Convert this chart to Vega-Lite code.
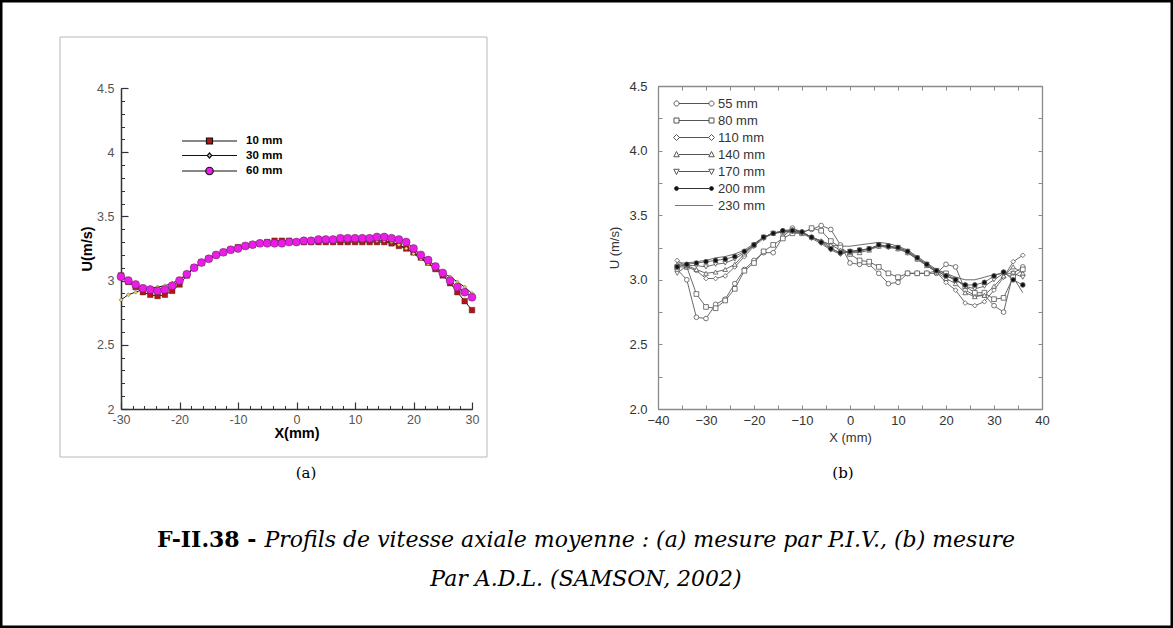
{
"width": 1173, "height": 628, "autosize": {"type": "none"}, "padding": 0, "background": "white",
"config": {"view": {"stroke": "black", "strokeWidth": 5}, "font": "Liberation Sans", "axis": {"grid": false, "labelFlush": false, "labelOverlap": false}},
"datasets": {
"a": [
{"x":-30,"u":3.04,"s":"10 mm"},{"x":-28.75,"u":2.99,"s":"10 mm"},{"x":-27.5,"u":2.95,"s":"10 mm"},{"x":-26.25,"u":2.91,"s":"10 mm"},{"x":-25,"u":2.89,"s":"10 mm"},{"x":-23.75,"u":2.88,"s":"10 mm"},{"x":-22.5,"u":2.89,"s":"10 mm"},{"x":-21.25,"u":2.92,"s":"10 mm"},{"x":-20,"u":2.97,"s":"10 mm"},{"x":-18.75,"u":3.04,"s":"10 mm"},
{"x":-17.5,"u":3.10,"s":"10 mm"},{"x":-16.25,"u":3.14,"s":"10 mm"},{"x":-15,"u":3.17,"s":"10 mm"},{"x":-13.75,"u":3.20,"s":"10 mm"},{"x":-12.5,"u":3.22,"s":"10 mm"},{"x":-11.25,"u":3.24,"s":"10 mm"},{"x":-10,"u":3.26,"s":"10 mm"},{"x":-8.75,"u":3.27,"s":"10 mm"},{"x":-7.5,"u":3.28,"s":"10 mm"},{"x":-6.25,"u":3.29,"s":"10 mm"},
{"x":-5,"u":3.30,"s":"10 mm"},{"x":-3.75,"u":3.31,"s":"10 mm"},{"x":-2.5,"u":3.31,"s":"10 mm"},{"x":-1.25,"u":3.31,"s":"10 mm"},{"x":0,"u":3.30,"s":"10 mm"},{"x":1.25,"u":3.30,"s":"10 mm"},{"x":2.5,"u":3.30,"s":"10 mm"},{"x":3.75,"u":3.30,"s":"10 mm"},{"x":5,"u":3.30,"s":"10 mm"},{"x":6.25,"u":3.30,"s":"10 mm"},
{"x":7.5,"u":3.30,"s":"10 mm"},{"x":8.75,"u":3.30,"s":"10 mm"},{"x":10,"u":3.30,"s":"10 mm"},{"x":11.25,"u":3.30,"s":"10 mm"},{"x":12.5,"u":3.30,"s":"10 mm"},{"x":13.75,"u":3.30,"s":"10 mm"},{"x":15,"u":3.30,"s":"10 mm"},{"x":16.25,"u":3.29,"s":"10 mm"},{"x":17.5,"u":3.27,"s":"10 mm"},{"x":18.75,"u":3.25,"s":"10 mm"},
{"x":20,"u":3.22,"s":"10 mm"},{"x":21.25,"u":3.18,"s":"10 mm"},{"x":22.5,"u":3.14,"s":"10 mm"},{"x":23.75,"u":3.09,"s":"10 mm"},{"x":25,"u":3.04,"s":"10 mm"},{"x":26.25,"u":2.98,"s":"10 mm"},{"x":27.5,"u":2.91,"s":"10 mm"},{"x":28.75,"u":2.84,"s":"10 mm"},{"x":30,"u":2.77,"s":"10 mm"},
{"x":-30,"u":2.85,"s":"30 mm"},{"x":-28.75,"u":2.89,"s":"30 mm"},{"x":-27.5,"u":2.91,"s":"30 mm"},{"x":-26.25,"u":2.93,"s":"30 mm"},{"x":-25,"u":2.94,"s":"30 mm"},{"x":-23.75,"u":2.95,"s":"30 mm"},{"x":-22.5,"u":2.96,"s":"30 mm"},{"x":-21.25,"u":2.98,"s":"30 mm"},{"x":-20,"u":3.01,"s":"30 mm"},{"x":-18.75,"u":3.05,"s":"30 mm"},
{"x":-17.5,"u":3.10,"s":"30 mm"},{"x":-16.25,"u":3.14,"s":"30 mm"},{"x":-15,"u":3.17,"s":"30 mm"},{"x":-13.75,"u":3.20,"s":"30 mm"},{"x":-12.5,"u":3.22,"s":"30 mm"},{"x":-11.25,"u":3.24,"s":"30 mm"},{"x":-10,"u":3.25,"s":"30 mm"},{"x":-8.75,"u":3.27,"s":"30 mm"},{"x":-7.5,"u":3.28,"s":"30 mm"},{"x":-6.25,"u":3.29,"s":"30 mm"},
{"x":-5,"u":3.30,"s":"30 mm"},{"x":-3.75,"u":3.30,"s":"30 mm"},{"x":-2.5,"u":3.30,"s":"30 mm"},{"x":-1.25,"u":3.30,"s":"30 mm"},{"x":0,"u":3.31,"s":"30 mm"},{"x":1.25,"u":3.31,"s":"30 mm"},{"x":2.5,"u":3.31,"s":"30 mm"},{"x":3.75,"u":3.32,"s":"30 mm"},{"x":5,"u":3.32,"s":"30 mm"},{"x":6.25,"u":3.32,"s":"30 mm"},
{"x":7.5,"u":3.32,"s":"30 mm"},{"x":8.75,"u":3.31,"s":"30 mm"},{"x":10,"u":3.31,"s":"30 mm"},{"x":11.25,"u":3.31,"s":"30 mm"},{"x":12.5,"u":3.31,"s":"30 mm"},{"x":13.75,"u":3.31,"s":"30 mm"},{"x":15,"u":3.31,"s":"30 mm"},{"x":16.25,"u":3.30,"s":"30 mm"},{"x":17.5,"u":3.28,"s":"30 mm"},{"x":18.75,"u":3.25,"s":"30 mm"},
{"x":20,"u":3.21,"s":"30 mm"},{"x":21.25,"u":3.17,"s":"30 mm"},{"x":22.5,"u":3.13,"s":"30 mm"},{"x":23.75,"u":3.10,"s":"30 mm"},{"x":25,"u":3.06,"s":"30 mm"},{"x":26.25,"u":3.03,"s":"30 mm"},{"x":27.5,"u":2.99,"s":"30 mm"},{"x":28.75,"u":2.95,"s":"30 mm"},{"x":30,"u":2.90,"s":"30 mm"},
{"x":-30,"u":3.03,"s":"60 mm"},{"x":-28.75,"u":3.00,"s":"60 mm"},{"x":-27.5,"u":2.97,"s":"60 mm"},{"x":-26.25,"u":2.94,"s":"60 mm"},{"x":-25,"u":2.93,"s":"60 mm"},{"x":-23.75,"u":2.92,"s":"60 mm"},{"x":-22.5,"u":2.93,"s":"60 mm"},{"x":-21.25,"u":2.96,"s":"60 mm"},{"x":-20,"u":3.00,"s":"60 mm"},{"x":-18.75,"u":3.05,"s":"60 mm"},
{"x":-17.5,"u":3.10,"s":"60 mm"},{"x":-16.25,"u":3.14,"s":"60 mm"},{"x":-15,"u":3.17,"s":"60 mm"},{"x":-13.75,"u":3.20,"s":"60 mm"},{"x":-12.5,"u":3.22,"s":"60 mm"},{"x":-11.25,"u":3.24,"s":"60 mm"},{"x":-10,"u":3.25,"s":"60 mm"},{"x":-8.75,"u":3.27,"s":"60 mm"},{"x":-7.5,"u":3.28,"s":"60 mm"},{"x":-6.25,"u":3.29,"s":"60 mm"},
{"x":-5,"u":3.29,"s":"60 mm"},{"x":-3.75,"u":3.29,"s":"60 mm"},{"x":-2.5,"u":3.29,"s":"60 mm"},{"x":-1.25,"u":3.30,"s":"60 mm"},{"x":0,"u":3.30,"s":"60 mm"},{"x":1.25,"u":3.31,"s":"60 mm"},{"x":2.5,"u":3.31,"s":"60 mm"},{"x":3.75,"u":3.32,"s":"60 mm"},{"x":5,"u":3.32,"s":"60 mm"},{"x":6.25,"u":3.32,"s":"60 mm"},
{"x":7.5,"u":3.33,"s":"60 mm"},{"x":8.75,"u":3.33,"s":"60 mm"},{"x":10,"u":3.33,"s":"60 mm"},{"x":11.25,"u":3.33,"s":"60 mm"},{"x":12.5,"u":3.33,"s":"60 mm"},{"x":13.75,"u":3.34,"s":"60 mm"},{"x":15,"u":3.34,"s":"60 mm"},{"x":16.25,"u":3.33,"s":"60 mm"},{"x":17.5,"u":3.32,"s":"60 mm"},{"x":18.75,"u":3.30,"s":"60 mm"},
{"x":20,"u":3.25,"s":"60 mm"},{"x":21.25,"u":3.20,"s":"60 mm"},{"x":22.5,"u":3.16,"s":"60 mm"},{"x":23.75,"u":3.11,"s":"60 mm"},{"x":25,"u":3.06,"s":"60 mm"},{"x":26.25,"u":3.00,"s":"60 mm"},{"x":27.5,"u":2.95,"s":"60 mm"},{"x":28.75,"u":2.91,"s":"60 mm"},{"x":30,"u":2.87,"s":"60 mm"}
],
"b": [
{"x":-36,"u":3.08,"s":"55 mm"},{"x":-34,"u":3.00,"s":"55 mm"},{"x":-32,"u":2.71,"s":"55 mm"},{"x":-30,"u":2.70,"s":"55 mm"},{"x":-28,"u":2.81,"s":"55 mm"},{"x":-26,"u":2.85,"s":"55 mm"},{"x":-24,"u":2.97,"s":"55 mm"},{"x":-22,"u":3.08,"s":"55 mm"},{"x":-20,"u":3.15,"s":"55 mm"},{"x":-18,"u":3.21,"s":"55 mm"},{"x":-16,"u":3.21,"s":"55 mm"},{"x":-14,"u":3.33,"s":"55 mm"},{"x":-12,"u":3.40,"s":"55 mm"},{"x":-10,"u":3.37,"s":"55 mm"},{"x":-8,"u":3.39,"s":"55 mm"},{"x":-6,"u":3.42,"s":"55 mm"},{"x":-4,"u":3.39,"s":"55 mm"},{"x":-2,"u":3.27,"s":"55 mm"},{"x":0,"u":3.13,"s":"55 mm"},{"x":2,"u":3.12,"s":"55 mm"},{"x":4,"u":3.12,"s":"55 mm"},{"x":6,"u":3.05,"s":"55 mm"},{"x":8,"u":2.97,"s":"55 mm"},{"x":10,"u":2.98,"s":"55 mm"},{"x":12,"u":3.05,"s":"55 mm"},{"x":14,"u":3.05,"s":"55 mm"},{"x":16,"u":3.05,"s":"55 mm"},{"x":18,"u":3.05,"s":"55 mm"},{"x":20,"u":3.12,"s":"55 mm"},{"x":22,"u":3.10,"s":"55 mm"},{"x":24,"u":2.92,"s":"55 mm"},{"x":26,"u":2.88,"s":"55 mm"},{"x":28,"u":2.88,"s":"55 mm"},{"x":30,"u":2.80,"s":"55 mm"},{"x":32,"u":2.75,"s":"55 mm"},{"x":34,"u":3.05,"s":"55 mm"},{"x":36,"u":3.10,"s":"55 mm"},
{"x":-36,"u":3.10,"s":"80 mm"},{"x":-34,"u":3.10,"s":"80 mm"},{"x":-32,"u":2.89,"s":"80 mm"},{"x":-30,"u":2.79,"s":"80 mm"},{"x":-28,"u":2.78,"s":"80 mm"},{"x":-26,"u":2.84,"s":"80 mm"},{"x":-24,"u":2.93,"s":"80 mm"},{"x":-22,"u":3.07,"s":"80 mm"},{"x":-20,"u":3.13,"s":"80 mm"},{"x":-18,"u":3.22,"s":"80 mm"},{"x":-16,"u":3.27,"s":"80 mm"},{"x":-14,"u":3.32,"s":"80 mm"},{"x":-12,"u":3.36,"s":"80 mm"},{"x":-10,"u":3.36,"s":"80 mm"},{"x":-8,"u":3.40,"s":"80 mm"},{"x":-6,"u":3.38,"s":"80 mm"},{"x":-4,"u":3.30,"s":"80 mm"},{"x":-2,"u":3.25,"s":"80 mm"},{"x":0,"u":3.20,"s":"80 mm"},{"x":2,"u":3.15,"s":"80 mm"},{"x":4,"u":3.14,"s":"80 mm"},{"x":6,"u":3.10,"s":"80 mm"},{"x":8,"u":3.05,"s":"80 mm"},{"x":10,"u":3.02,"s":"80 mm"},{"x":12,"u":3.05,"s":"80 mm"},{"x":14,"u":3.05,"s":"80 mm"},{"x":16,"u":3.05,"s":"80 mm"},{"x":18,"u":3.07,"s":"80 mm"},{"x":20,"u":3.05,"s":"80 mm"},{"x":22,"u":3.00,"s":"80 mm"},{"x":24,"u":2.95,"s":"80 mm"},{"x":26,"u":2.90,"s":"80 mm"},{"x":28,"u":2.90,"s":"80 mm"},{"x":30,"u":2.85,"s":"80 mm"},{"x":32,"u":2.86,"s":"80 mm"},{"x":34,"u":3.02,"s":"80 mm"},{"x":36,"u":3.08,"s":"80 mm"},
{"x":-36,"u":3.15,"s":"110 mm"},{"x":-34,"u":3.10,"s":"110 mm"},{"x":-32,"u":3.07,"s":"110 mm"},{"x":-30,"u":3.01,"s":"110 mm"},{"x":-28,"u":3.01,"s":"110 mm"},{"x":-26,"u":3.03,"s":"110 mm"},{"x":-24,"u":3.10,"s":"110 mm"},{"x":-22,"u":3.18,"s":"110 mm"},{"x":-20,"u":3.26,"s":"110 mm"},{"x":-18,"u":3.32,"s":"110 mm"},{"x":-16,"u":3.36,"s":"110 mm"},{"x":-14,"u":3.38,"s":"110 mm"},{"x":-12,"u":3.39,"s":"110 mm"},{"x":-10,"u":3.37,"s":"110 mm"},{"x":-8,"u":3.33,"s":"110 mm"},{"x":-6,"u":3.30,"s":"110 mm"},{"x":-4,"u":3.25,"s":"110 mm"},{"x":-2,"u":3.20,"s":"110 mm"},{"x":0,"u":3.22,"s":"110 mm"},{"x":2,"u":3.22,"s":"110 mm"},{"x":4,"u":3.24,"s":"110 mm"},{"x":6,"u":3.26,"s":"110 mm"},{"x":8,"u":3.25,"s":"110 mm"},{"x":10,"u":3.24,"s":"110 mm"},{"x":12,"u":3.21,"s":"110 mm"},{"x":14,"u":3.16,"s":"110 mm"},{"x":16,"u":3.11,"s":"110 mm"},{"x":18,"u":3.06,"s":"110 mm"},{"x":20,"u":2.98,"s":"110 mm"},{"x":22,"u":2.92,"s":"110 mm"},{"x":24,"u":2.82,"s":"110 mm"},{"x":26,"u":2.80,"s":"110 mm"},{"x":28,"u":2.83,"s":"110 mm"},{"x":30,"u":2.92,"s":"110 mm"},{"x":32,"u":3.02,"s":"110 mm"},{"x":34,"u":3.14,"s":"110 mm"},{"x":36,"u":3.19,"s":"110 mm"},
{"x":-36,"u":3.12,"s":"140 mm"},{"x":-34,"u":3.11,"s":"140 mm"},{"x":-32,"u":3.08,"s":"140 mm"},{"x":-30,"u":3.05,"s":"140 mm"},{"x":-28,"u":3.06,"s":"140 mm"},{"x":-26,"u":3.08,"s":"140 mm"},{"x":-24,"u":3.12,"s":"140 mm"},{"x":-22,"u":3.20,"s":"140 mm"},{"x":-20,"u":3.27,"s":"140 mm"},{"x":-18,"u":3.33,"s":"140 mm"},{"x":-16,"u":3.36,"s":"140 mm"},{"x":-14,"u":3.37,"s":"140 mm"},{"x":-12,"u":3.38,"s":"140 mm"},{"x":-10,"u":3.37,"s":"140 mm"},{"x":-8,"u":3.33,"s":"140 mm"},{"x":-6,"u":3.30,"s":"140 mm"},{"x":-4,"u":3.27,"s":"140 mm"},{"x":-2,"u":3.23,"s":"140 mm"},{"x":0,"u":3.21,"s":"140 mm"},{"x":2,"u":3.21,"s":"140 mm"},{"x":4,"u":3.23,"s":"140 mm"},{"x":6,"u":3.26,"s":"140 mm"},{"x":8,"u":3.26,"s":"140 mm"},{"x":10,"u":3.24,"s":"140 mm"},{"x":12,"u":3.21,"s":"140 mm"},{"x":14,"u":3.16,"s":"140 mm"},{"x":16,"u":3.11,"s":"140 mm"},{"x":18,"u":3.06,"s":"140 mm"},{"x":20,"u":3.01,"s":"140 mm"},{"x":22,"u":2.97,"s":"140 mm"},{"x":24,"u":2.90,"s":"140 mm"},{"x":26,"u":2.87,"s":"140 mm"},{"x":28,"u":2.88,"s":"140 mm"},{"x":30,"u":2.95,"s":"140 mm"},{"x":32,"u":3.03,"s":"140 mm"},{"x":34,"u":3.10,"s":"140 mm"},{"x":36,"u":3.05,"s":"140 mm"},
{"x":-36,"u":3.05,"s":"170 mm"},{"x":-34,"u":3.11,"s":"170 mm"},{"x":-32,"u":3.11,"s":"170 mm"},{"x":-30,"u":3.10,"s":"170 mm"},{"x":-28,"u":3.12,"s":"170 mm"},{"x":-26,"u":3.13,"s":"170 mm"},{"x":-24,"u":3.16,"s":"170 mm"},{"x":-22,"u":3.21,"s":"170 mm"},{"x":-20,"u":3.27,"s":"170 mm"},{"x":-18,"u":3.33,"s":"170 mm"},{"x":-16,"u":3.36,"s":"170 mm"},{"x":-14,"u":3.37,"s":"170 mm"},{"x":-12,"u":3.37,"s":"170 mm"},{"x":-10,"u":3.36,"s":"170 mm"},{"x":-8,"u":3.32,"s":"170 mm"},{"x":-6,"u":3.28,"s":"170 mm"},{"x":-4,"u":3.23,"s":"170 mm"},{"x":-2,"u":3.20,"s":"170 mm"},{"x":0,"u":3.22,"s":"170 mm"},{"x":2,"u":3.23,"s":"170 mm"},{"x":4,"u":3.24,"s":"170 mm"},{"x":6,"u":3.27,"s":"170 mm"},{"x":8,"u":3.26,"s":"170 mm"},{"x":10,"u":3.25,"s":"170 mm"},{"x":12,"u":3.22,"s":"170 mm"},{"x":14,"u":3.17,"s":"170 mm"},{"x":16,"u":3.12,"s":"170 mm"},{"x":18,"u":3.07,"s":"170 mm"},{"x":20,"u":3.03,"s":"170 mm"},{"x":22,"u":3.00,"s":"170 mm"},{"x":24,"u":2.95,"s":"170 mm"},{"x":26,"u":2.93,"s":"170 mm"},{"x":28,"u":2.95,"s":"170 mm"},{"x":30,"u":3.00,"s":"170 mm"},{"x":32,"u":3.05,"s":"170 mm"},{"x":34,"u":3.05,"s":"170 mm"},{"x":36,"u":3.02,"s":"170 mm"},
{"x":-36,"u":3.10,"s":"200 mm"},{"x":-34,"u":3.12,"s":"200 mm"},{"x":-32,"u":3.13,"s":"200 mm"},{"x":-30,"u":3.14,"s":"200 mm"},{"x":-28,"u":3.15,"s":"200 mm"},{"x":-26,"u":3.16,"s":"200 mm"},{"x":-24,"u":3.18,"s":"200 mm"},{"x":-22,"u":3.22,"s":"200 mm"},{"x":-20,"u":3.27,"s":"200 mm"},{"x":-18,"u":3.33,"s":"200 mm"},{"x":-16,"u":3.36,"s":"200 mm"},{"x":-14,"u":3.38,"s":"200 mm"},{"x":-12,"u":3.38,"s":"200 mm"},{"x":-10,"u":3.37,"s":"200 mm"},{"x":-8,"u":3.33,"s":"200 mm"},{"x":-6,"u":3.29,"s":"200 mm"},{"x":-4,"u":3.24,"s":"200 mm"},{"x":-2,"u":3.21,"s":"200 mm"},{"x":0,"u":3.22,"s":"200 mm"},{"x":2,"u":3.23,"s":"200 mm"},{"x":4,"u":3.24,"s":"200 mm"},{"x":6,"u":3.27,"s":"200 mm"},{"x":8,"u":3.26,"s":"200 mm"},{"x":10,"u":3.25,"s":"200 mm"},{"x":12,"u":3.22,"s":"200 mm"},{"x":14,"u":3.17,"s":"200 mm"},{"x":16,"u":3.12,"s":"200 mm"},{"x":18,"u":3.07,"s":"200 mm"},{"x":20,"u":3.03,"s":"200 mm"},{"x":22,"u":3.00,"s":"200 mm"},{"x":24,"u":2.96,"s":"200 mm"},{"x":26,"u":2.96,"s":"200 mm"},{"x":28,"u":2.98,"s":"200 mm"},{"x":30,"u":3.03,"s":"200 mm"},{"x":32,"u":3.06,"s":"200 mm"},{"x":34,"u":3.00,"s":"200 mm"},{"x":36,"u":2.96,"s":"200 mm"},
{"x":-36,"u":3.13,"s":"230 mm"},{"x":-34,"u":3.13,"s":"230 mm"},{"x":-32,"u":3.14,"s":"230 mm"},{"x":-30,"u":3.15,"s":"230 mm"},{"x":-28,"u":3.17,"s":"230 mm"},{"x":-26,"u":3.18,"s":"230 mm"},{"x":-24,"u":3.20,"s":"230 mm"},{"x":-22,"u":3.23,"s":"230 mm"},{"x":-20,"u":3.28,"s":"230 mm"},{"x":-18,"u":3.33,"s":"230 mm"},{"x":-16,"u":3.36,"s":"230 mm"},{"x":-14,"u":3.37,"s":"230 mm"},{"x":-12,"u":3.38,"s":"230 mm"},{"x":-10,"u":3.36,"s":"230 mm"},{"x":-8,"u":3.33,"s":"230 mm"},{"x":-6,"u":3.30,"s":"230 mm"},{"x":-4,"u":3.27,"s":"230 mm"},{"x":-2,"u":3.26,"s":"230 mm"},{"x":0,"u":3.26,"s":"230 mm"},{"x":2,"u":3.27,"s":"230 mm"},{"x":4,"u":3.28,"s":"230 mm"},{"x":6,"u":3.29,"s":"230 mm"},{"x":8,"u":3.28,"s":"230 mm"},{"x":10,"u":3.26,"s":"230 mm"},{"x":12,"u":3.23,"s":"230 mm"},{"x":14,"u":3.18,"s":"230 mm"},{"x":16,"u":3.13,"s":"230 mm"},{"x":18,"u":3.08,"s":"230 mm"},{"x":20,"u":3.05,"s":"230 mm"},{"x":22,"u":3.02,"s":"230 mm"},{"x":24,"u":3.00,"s":"230 mm"},{"x":26,"u":3.00,"s":"230 mm"},{"x":28,"u":3.02,"s":"230 mm"},{"x":30,"u":3.04,"s":"230 mm"},{"x":32,"u":3.05,"s":"230 mm"},{"x":34,"u":3.02,"s":"230 mm"},{"x":36,"u":2.90,"s":"230 mm"}
]
},
"layer": [
{
"layer": [
{
"data": {"values": [{}]},
"mark": {"type": "rect", "filled": false, "color": "#b8b8b8", "strokeWidth": 1},
"encoding": {
"x": {"datum": -40.43, "type": "quantitative", "scale": {"domain": [-30, 30], "range": [121, 472], "nice": false, "zero": false}, "axis": null},
"x2": {"datum": 32.56},
"y": {"datum": 4.897, "type": "quantitative", "scale": {"domain": [2, 4.5], "range": [409, 88], "nice": false, "zero": false}, "axis": null},
"y2": {"datum": 1.626}
}
},
{
"data": {"name": "a"},
"mark": {"type": "line", "color": "#1a1a1a", "strokeWidth": 1},
"encoding": {
"x": {"field": "x", "type": "quantitative", "scale": {"domain": [-30, 30], "range": [121, 472], "nice": false, "zero": false},
"axis": {"orient": "bottom", "offset": -219, "values": [-30, -20, -10, 0, 10, 20, 30], "tickSize": -7, "tickColor": "#333", "tickWidth": 1.2, "domainColor": "#333", "domainWidth": 1.5, "labelExpr": "'' + datum.value", "labelFont": "Liberation Sans", "labelFontSize": 12.5, "labelColor": "#555", "labelPadding": 11, "title": "X(mm)", "titleFont": "Liberation Sans", "titleFontSize": 14.5, "titleFontWeight": "bold", "titleColor": "black", "titlePadding": 1}},
"y": {"field": "u", "type": "quantitative", "scale": {"domain": [2, 4.5], "range": [409, 88], "nice": false, "zero": false},
"axis": {"orient": "left", "offset": -121, "values": [2, 2.5, 3, 3.5, 4, 4.5], "tickSize": -7, "tickColor": "#333", "tickWidth": 1.2, "domainColor": "#333", "domainWidth": 1.5, "labelExpr": "'' + datum.value", "labelFont": "Liberation Sans", "labelFontSize": 12.5, "labelColor": "#555", "labelPadding": 14, "title": "U(m/s)", "titleFont": "Liberation Sans", "titleFontSize": 14.5, "titleFontWeight": "bold", "titleColor": "black", "titlePadding": 2}},
"detail": {"field": "s", "type": "nominal"}
}
},
{
"data": {"name": "a"},
"mark": {"type": "point", "filled": true, "opacity": 1, "stroke": "#402020", "strokeWidth": 0.4},
"encoding": {
"x": {"field": "x", "type": "quantitative", "scale": {"domain": [-30, 30], "range": [121, 472], "nice": false, "zero": false},
"axis": {"orient": "bottom", "offset": -219, "values": [-30,-28,-26,-24,-22,-20,-18,-16,-14,-12,-10,-8,-6,-4,-2,0,2,4,6,8,10,12,14,16,18,20,22,24,26,28,30], "tickSize": -3.5, "tickColor": "#333", "labels": false, "domain": false, "title": null}},
"y": {"field": "u", "type": "quantitative", "scale": {"domain": [2, 4.5], "range": [409, 88], "nice": false, "zero": false},
"axis": {"orient": "left", "offset": -121, "values": [2,2.1,2.2,2.3,2.4,2.5,2.6,2.7,2.8,2.9,3,3.1,3.2,3.3,3.4,3.5,3.6,3.7,3.8,3.9,4,4.1,4.2,4.3,4.4,4.5], "tickSize": -3.5, "tickColor": "#333", "labels": false, "domain": false, "title": null}},
"color": {"field": "s", "type": "nominal", "scale": {"domain": ["10 mm", "30 mm", "60 mm"], "range": ["#b31515", "#e3d75a", "#e81ee8"]}, "legend": null},
"shape": {"field": "s", "type": "nominal", "scale": {"domain": ["10 mm", "30 mm", "60 mm"], "range": ["square", "diamond", "circle"]}, "legend": null},
"size": {"field": "s", "type": "nominal", "scale": {"type": "ordinal", "domain": ["10 mm", "30 mm", "60 mm"], "range": [32, 16, 64]}, "legend": null}
}
},
{
"data": {"name": "a"},
"mark": {"type": "point", "filled": true, "opacity": 0, "size": 100, "strokeWidth": 1.2},
"encoding": {
"color": {"field": "s", "type": "nominal", "scale": {"domain": ["10 mm", "30 mm", "60 mm"], "range": ["#b31515", "#e3d75a", "#e81ee8"]},
"legend": {"title": null, "orient": "none", "legendX": 203.5, "legendY": 135, "padding": 0, "labelFont": "Liberation Sans", "labelFontWeight": "bold", "labelFontSize": 11.5, "labelColor": "black", "labelOffset": 30.5, "rowPadding": 2.5, "symbolSize": 100, "symbolStrokeWidth": 1.2, "symbolOpacity": 1}},
"stroke": {"field": "s", "type": "nominal", "scale": {"domain": ["10 mm", "30 mm", "60 mm"], "range": ["#111", "#111", "#111"]},
"legend": {"title": null, "orient": "none", "legendX": 203.5, "legendY": 135, "padding": 0, "labelFont": "Liberation Sans", "labelFontWeight": "bold", "labelFontSize": 11.5, "labelColor": "black", "labelOffset": 30.5, "rowPadding": 2.5, "symbolSize": 100, "symbolStrokeWidth": 1.2, "symbolOpacity": 1}},
"shape": {"field": "s", "type": "nominal", "scale": {"domain": ["10 mm", "30 mm", "60 mm"], "range": ["M-5.5,0H-0.6M0.6,0H5.5M-0.6,-0.6H0.6V0.6H-0.6Z", "M-5.5,0H-0.45M0.45,0H5.5M0,-0.5L0.45,0L0,0.5L-0.45,0Z", "M-5.5,0H-0.75M0.75,0H5.5M0.75,0A0.75,0.75,0,1,1,-0.75,0A0.75,0.75,0,1,1,0.75,0Z"]},
"legend": {"title": null, "orient": "none", "legendX": 203.5, "legendY": 135, "padding": 0, "labelFont": "Liberation Sans", "labelFontWeight": "bold", "labelFontSize": 11.5, "labelColor": "black", "labelOffset": 30.5, "rowPadding": 2.5, "symbolSize": 100, "symbolStrokeWidth": 1.2, "symbolOpacity": 1}}
}
},
{
"data": {"values": [{"t": "(a)"}]},
"mark": {"type": "text", "font": "DejaVu Serif", "fontSize": 15, "align": "center", "baseline": "middle", "color": "black"},
"encoding": {
"text": {"field": "t"},
"x": {"datum": 1.62, "type": "quantitative", "scale": {"domain": [-30, 30], "range": [121, 472], "nice": false, "zero": false}, "axis": null},
"y": {"datum": 1.50, "type": "quantitative", "scale": {"domain": [2, 4.5], "range": [409, 88], "nice": false, "zero": false}, "axis": null}
}
},
{
"data": {"values": [{"t": "(b)"}]},
"mark": {"type": "text", "font": "DejaVu Serif", "fontSize": 15, "align": "center", "baseline": "middle", "color": "black"},
"encoding": {
"text": {"field": "t"},
"x": {"datum": 93.42, "type": "quantitative", "scale": {"domain": [-30, 30], "range": [121, 472], "nice": false, "zero": false}, "axis": null},
"y": {"datum": 1.50, "type": "quantitative", "scale": {"domain": [2, 4.5], "range": [409, 88], "nice": false, "zero": false}, "axis": null}
}
},
{
"data": {"values": [{"t": "F-II.38 -"}]},
"mark": {"type": "text", "font": "DejaVu Serif", "fontWeight": "bold", "fontSize": 22, "align": "right", "baseline": "middle", "color": "black", "dx": -2},
"encoding": {
"text": {"field": "t"},
"x": {"datum": -6.5, "type": "quantitative", "scale": {"domain": [-30, 30], "range": [121, 472], "nice": false, "zero": false}, "axis": null},
"y": {"datum": 0.98, "type": "quantitative", "scale": {"domain": [2, 4.5], "range": [409, 88], "nice": false, "zero": false}, "axis": null}
}
},
{
"data": {"values": [{"t": "Profils de vitesse axiale moyenne : (a) mesure par P.I.V., (b) mesure"}]},
"mark": {"type": "text", "font": "DejaVu Serif", "fontStyle": "italic", "fontSize": 22, "align": "left", "baseline": "middle", "color": "black", "dx": 6},
"encoding": {
"text": {"field": "t"},
"x": {"datum": -6.5, "type": "quantitative", "scale": {"domain": [-30, 30], "range": [121, 472], "nice": false, "zero": false}, "axis": null},
"y": {"datum": 0.98, "type": "quantitative", "scale": {"domain": [2, 4.5], "range": [409, 88], "nice": false, "zero": false}, "axis": null}
}
},
{
"data": {"values": [{"t": "Par A.D.L. (SAMSON, 2002)"}]},
"mark": {"type": "text", "font": "DejaVu Serif", "fontStyle": "italic", "fontSize": 22, "align": "center", "baseline": "middle", "color": "black"},
"encoding": {
"text": {"field": "t"},
"x": {"datum": 49.49, "type": "quantitative", "scale": {"domain": [-30, 30], "range": [121, 472], "nice": false, "zero": false}, "axis": null},
"y": {"datum": 0.676, "type": "quantitative", "scale": {"domain": [2, 4.5], "range": [409, 88], "nice": false, "zero": false}, "axis": null}
}
}
],
"resolve": {"scale": {"color": "independent", "shape": "independent", "size": "independent", "stroke": "independent"}, "axis": {"x": "independent", "y": "independent"}}
},
{
"layer": [
{
"data": {"name": "b"},
"mark": {"type": "line", "color": "#5a5a5a", "strokeWidth": 0.9},
"encoding": {
"x": {"field": "x", "type": "quantitative", "scale": {"domain": [-40, 40], "range": [658, 1042], "nice": false, "zero": false},
"axis": {"orient": "bottom", "offset": -219, "values": [-40,-35,-30,-25,-20,-15,-10,-5,0,5,10,15,20,25,30,35,40], "tickSize": -4, "tickColor": "#8a8a8a", "domainColor": "#8a8a8a", "domainWidth": 1.3, "labelExpr": "datum.value % 10 === 0 ? format(datum.value, 'd') : ''", "labelFont": "Liberation Sans", "labelFontSize": 13, "labelColor": "#333", "labelPadding": 9.5, "title": "X (mm)", "titleFont": "Liberation Sans", "titleFontSize": 13, "titleFontWeight": "normal", "titleColor": "#333", "titlePadding": 4}},
"y": {"field": "u", "type": "quantitative", "scale": {"domain": [2, 4.5], "range": [409, 86], "nice": false, "zero": false},
"axis": {"orient": "left", "offset": -658, "values": [2,2.25,2.5,2.75,3,3.25,3.5,3.75,4,4.25,4.5], "tickSize": -4, "tickColor": "#8a8a8a", "domainColor": "#8a8a8a", "domainWidth": 1.3, "labelExpr": "(datum.value * 2) % 1 === 0 ? format(datum.value, '.1f') : ''", "labelFont": "Liberation Sans", "labelFontSize": 13, "labelColor": "#333", "labelPadding": 15, "title": "U (m/s)", "titleFont": "Liberation Sans", "titleFontSize": 13, "titleFontWeight": "normal", "titleColor": "#333", "titlePadding": 7}},
"detail": {"field": "s", "type": "nominal"}
}
},
{
"data": {"name": "b"},
"transform": [{"filter": "datum.s !== '230 mm'"}],
"mark": {"type": "point", "opacity": 1, "size": 22, "stroke": "#555", "strokeWidth": 0.8},
"encoding": {
"x": {"field": "x", "type": "quantitative", "scale": {"domain": [-40, 40], "range": [658, 1042], "nice": false, "zero": false},
"axis": {"orient": "top", "offset": -86, "values": [-40,-35,-30,-25,-20,-15,-10,-5,0,5,10,15,20,25,30,35,40], "tickSize": -4, "tickColor": "#8a8a8a", "domainColor": "#8a8a8a", "domainWidth": 1.3, "labels": false, "title": null}},
"y": {"field": "u", "type": "quantitative", "scale": {"domain": [2, 4.5], "range": [409, 86], "nice": false, "zero": false},
"axis": {"orient": "right", "offset": -131, "values": [2,2.25,2.5,2.75,3,3.25,3.5,3.75,4,4.25,4.5], "tickSize": -4, "tickColor": "#8a8a8a", "domainColor": "#8a8a8a", "domainWidth": 1.3, "labels": false, "title": null}},
"shape": {"field": "s", "type": "nominal", "scale": {"domain": ["55 mm", "80 mm", "110 mm", "140 mm", "170 mm", "200 mm"], "range": ["circle", "square", "diamond", "triangle-up", "triangle-down", "circle"]}, "legend": null},
"fill": {"field": "s", "type": "nominal", "scale": {"domain": ["55 mm", "80 mm", "110 mm", "140 mm", "170 mm", "200 mm"], "range": ["white", "white", "white", "white", "white", "#111"]}, "legend": null}
}
},
{
"data": {"name": "b"},
"mark": {"type": "point", "opacity": 0, "size": 100, "strokeWidth": 1},
"encoding": {
"shape": {"field": "s", "type": "nominal", "scale": {"domain": ["55 mm", "80 mm", "110 mm", "140 mm", "170 mm", "200 mm", "230 mm"], "range": [
"M-3,0H3M-3,0A0.5,0.5,0,1,1,-4,0A0.5,0.5,0,1,1,-3,0ZM4,0A0.5,0.5,0,1,1,3,0A0.5,0.5,0,1,1,4,0Z",
"M-3,0H3M-4,-0.5H-3V0.5H-4ZM3,-0.5H4V0.5H3Z",
"M-3,0H3M-3.5,-0.6L-2.9,0L-3.5,0.6L-4.1,0ZM3.5,-0.6L4.1,0L3.5,0.6L2.9,0Z",
"M-3,0H3M-3.5,-0.6L-2.95,0.45H-4.05ZM3.5,-0.6L4.05,0.45H2.95Z",
"M-3,0H3M-3.5,0.6L-2.95,-0.45H-4.05ZM3.5,0.6L4.05,-0.45H2.95Z",
"M-3,0H3M-3.1,0A0.4,0.4,0,1,1,-3.9,0A0.4,0.4,0,1,1,-3.1,0ZM3.9,0A0.4,0.4,0,1,1,3.1,0A0.4,0.4,0,1,1,3.9,0Z",
"M-3.8,0H3.8"]},
"legend": {"title": null, "orient": "none", "legendX": 687.5, "legendY": 97, "padding": 0, "labelFont": "Liberation Sans", "labelFontSize": 13, "labelColor": "#333", "labelOffset": 17.5, "rowPadding": 3, "symbolSize": 100, "symbolStrokeWidth": 1, "symbolOpacity": 1}},
"fill": {"field": "s", "type": "nominal", "scale": {"domain": ["55 mm", "80 mm", "110 mm", "140 mm", "170 mm", "200 mm", "230 mm"], "range": ["white", "white", "white", "white", "white", "#111", "white"]},
"legend": {"title": null, "orient": "none", "legendX": 687.5, "legendY": 97, "padding": 0, "labelFont": "Liberation Sans", "labelFontSize": 13, "labelColor": "#333", "labelOffset": 17.5, "rowPadding": 3, "symbolSize": 100, "symbolStrokeWidth": 1, "symbolOpacity": 1}},
"stroke": {"field": "s", "type": "nominal", "scale": {"domain": ["55 mm", "80 mm", "110 mm", "140 mm", "170 mm", "200 mm", "230 mm"], "range": ["#555", "#555", "#555", "#555", "#555", "#333", "#777"]},
"legend": {"title": null, "orient": "none", "legendX": 687.5, "legendY": 97, "padding": 0, "labelFont": "Liberation Sans", "labelFontSize": 13, "labelColor": "#333", "labelOffset": 17.5, "rowPadding": 3, "symbolSize": 100, "symbolStrokeWidth": 1, "symbolOpacity": 1}}
}
}
],
"resolve": {"scale": {"shape": "independent", "fill": "independent", "stroke": "independent"}, "axis": {"x": "independent", "y": "independent"}}
}
],
"resolve": {"scale": {"x": "independent", "y": "independent", "color": "independent", "shape": "independent", "fill": "independent", "size": "independent", "stroke": "independent"}}
}
